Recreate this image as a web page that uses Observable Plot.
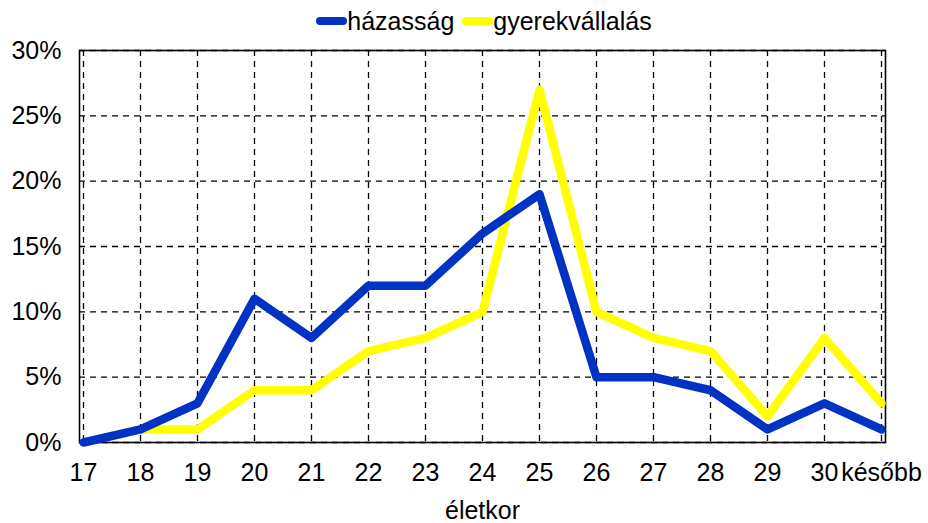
<!DOCTYPE html>
<html>
<head>
<meta charset="utf-8">
<script src="https://cdn.jsdelivr.net/npm/d3@7"></script>
<script src="https://cdn.jsdelivr.net/npm/@observablehq/plot@0.6"></script>
<style>
  body { margin: 0; background: #fff; font-family: "Liberation Sans", Arial, sans-serif; }
  #legend { box-sizing: border-box; height: 34px; padding-top: 8px; display: flex; justify-content: center; align-items: center; font-size: 25px; line-height: 26px; color: #000; padding-left: 40px; }
  .sw { display: inline-block; width: 31px; height: 8px; border-radius: 4px; }
  .item { display: flex; align-items: center; margin: 0 4px; }
  #chart svg { display: block; }
</style>
</head>
<body>
<div id="legend"></div>
<div id="chart"></div>
<script>
const ages = ["17","18","19","20","21","22","23","24","25","26","27","28","29","30","később"];
const hazassag = [0,1,3,11,8,12,12,16,19,5,5,4,1,3,1];
const gyerek = [null,1,1,4,4,7,8,10,27,10,8,7,2,8,3];
const seriesNames = ["házasság","gyerekvállalás"];
const colors = ["#0033c4","#ffff00"];
const yTicks = [0,5,10,15,20,25,30];
const xTitle = "életkor";

const rows = [];
ages.forEach((a,i) => {
  rows.push({age:a, v:hazassag[i], s:seriesNames[0]});
  if (gyerek[i] != null) rows.push({age:a, v:gyerek[i], s:seriesNames[1]});
});

const legend = document.getElementById("legend");
seriesNames.forEach((n,i) => {
  const it = document.createElement("span");
  it.className = "item";
  it.innerHTML = `<span class="sw" style="background:${colors[i]}"></span>${n}`;
  legend.appendChild(it);
});

const chart = Plot.plot({
  width: 928,
  height: 489,
  marginTop: 16,
  marginBottom: 81,
  marginLeft: 79,
  marginRight: 43,
  style: {fontFamily: "Liberation Sans, Arial, sans-serif", fontSize: "25px", color: "#000", background: "#fff", overflow: "visible"},
  x: {type: "point", domain: ages, padding: 0},
  y: {domain: [0,30]},
  color: {domain: seriesNames, range: colors},
  marks: [
    Plot.ruleX(ages, {stroke: "#000", strokeDasharray: "6,5", strokeWidth: 1.3}),
    Plot.ruleY(yTicks, {stroke: "#000", strokeDasharray: "6,5", strokeWidth: 1.3}),
    Plot.frame({stroke: "#000", strokeWidth: 1.6}),
    Plot.axisX({tickSize: 0, tickPadding: 21, label: null, fontSize: 25}),
    Plot.axisY({ticks: yTicks, tickSize: 0, tickPadding: 18, tickFormat: d => d + "%", label: null, fontSize: 25}),
    Plot.lineY(rows.filter(r => r.s === seriesNames[1]), {x: "age", y: "v", stroke: colors[1], strokeWidth: 8.5, strokeLinecap: "round", strokeLinejoin: "round"}),
    Plot.lineY(rows.filter(r => r.s === seriesNames[0]), {x: "age", y: "v", stroke: colors[0], strokeWidth: 8.5, strokeLinecap: "round", strokeLinejoin: "round"}),
    Plot.text([xTitle], {frameAnchor: "bottom", dy: 76, fontSize: 25, fill: "#000"})
  ]
});
document.getElementById("chart").appendChild(chart);
</script>
</body>
</html>
